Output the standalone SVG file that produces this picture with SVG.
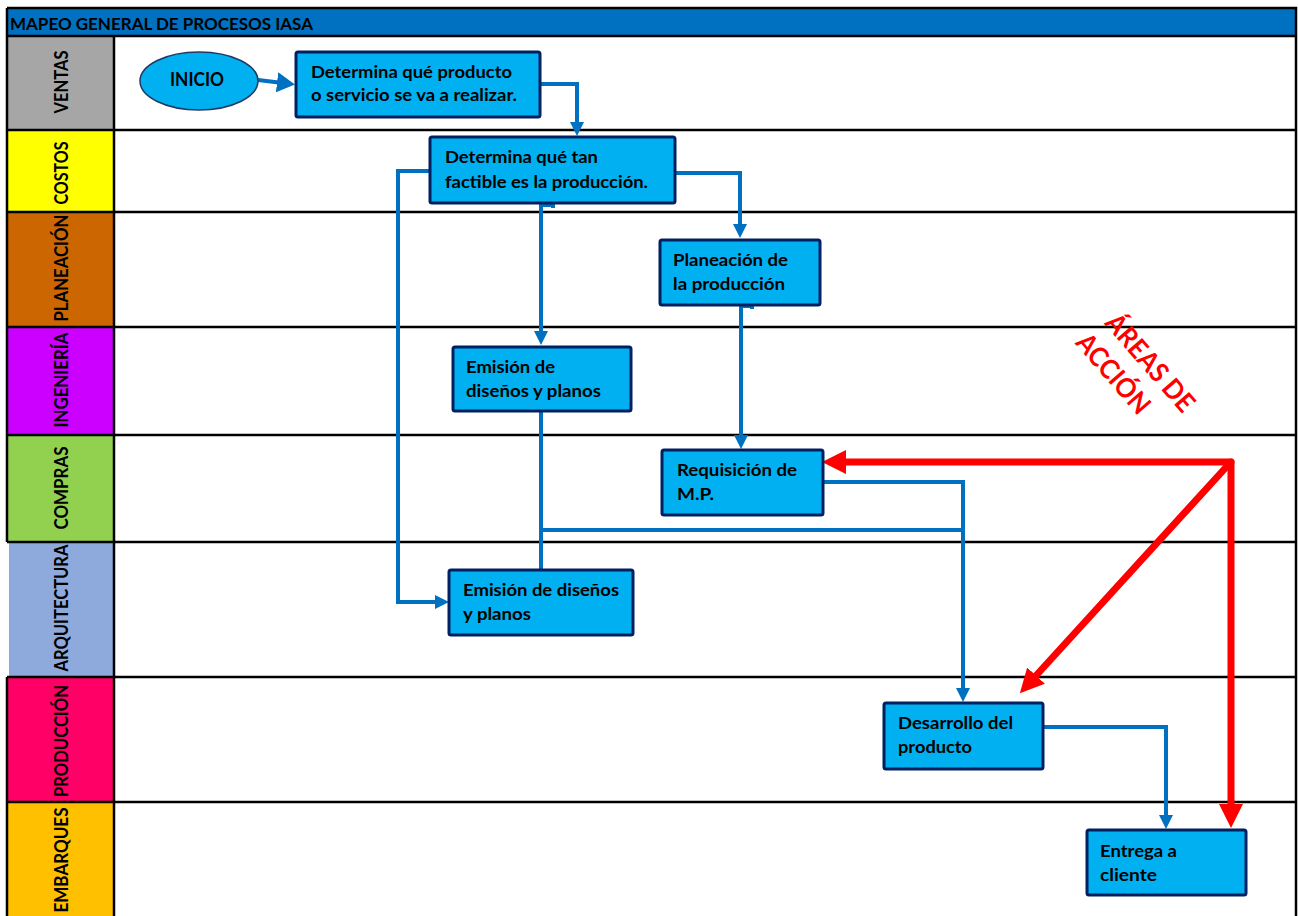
<svg xmlns="http://www.w3.org/2000/svg" width="1298" height="916" viewBox="0 0 1298 916">
<defs>
<style>
.lbl{font-family:Lato,"Liberation Sans",sans-serif;font-weight:bold;font-size:18.5px;fill:#000;text-anchor:middle}
.hdr{font-family:Lato,"Liberation Sans",sans-serif;font-weight:bold;font-size:17px;fill:#000}
.box{fill:#00B0F0;stroke:#002060;stroke-width:3}
.nt{font-family:Lato,"Liberation Sans",sans-serif;font-weight:bold;font-size:17.5px;fill:#000}
.grid{stroke:#000;stroke-width:2.5;fill:none}
.conn{fill:none;stroke:#0070C0;stroke-width:4}
.red{fill:none;stroke:#FF0000;stroke-width:7;stroke-linecap:round}
.rt{font-family:Lato,"Liberation Sans",sans-serif;font-weight:bold;font-size:27px;fill:#FF0000;text-anchor:middle}
</style>
<marker id="ab" markerUnits="userSpaceOnUse" markerWidth="14" markerHeight="14" refX="4" refY="7" orient="auto"><path d="M0,0 L14,7 L0,14 z" fill="#0070C0"/></marker>
<marker id="abig" markerUnits="userSpaceOnUse" markerWidth="18" markerHeight="20" refX="6" refY="10" orient="auto"><path d="M0,0 L18,10 L0,20 z" fill="#0070C0"/></marker>
<marker id="ar" markerUnits="userSpaceOnUse" markerWidth="24" markerHeight="24" refX="6" refY="12" orient="auto"><path d="M0,0 L24,12 L0,24 z" fill="#FF0000"/></marker>
</defs>
<rect x="0" y="0" width="1298" height="916" fill="#fff"/>
<g id="header">
<rect x="7" y="8" width="1289" height="28" fill="#0070C0"/>
<text class="hdr" x="10" y="29.5" textLength="303" lengthAdjust="spacingAndGlyphs">MAPEO GENERAL DE PROCESOS IASA</text>
</g>
<g id="lanes">
<g id="lane-ventas"><rect x="8" y="36" width="106" height="94" fill="#A6A6A6"/><text class="lbl" transform="translate(68,82) rotate(-90)" textLength="63" lengthAdjust="spacingAndGlyphs">VENTAS</text></g>
<g id="lane-costos"><rect x="8" y="130" width="106" height="82" fill="#FFFF00"/><text class="lbl" transform="translate(68,173) rotate(-90)" textLength="63" lengthAdjust="spacingAndGlyphs">COSTOS</text></g>
<g id="lane-planeacion"><rect x="8" y="212" width="106" height="115" fill="#CC6600"/><text class="lbl" transform="translate(68,268) rotate(-90)" textLength="107" lengthAdjust="spacingAndGlyphs">PLANEACIÓN</text></g>
<g id="lane-ingenieria"><rect x="8" y="327" width="106" height="108" fill="#CC00FF"/><text class="lbl" transform="translate(68,380) rotate(-90)" textLength="95" lengthAdjust="spacingAndGlyphs">INGENIERÍA</text></g>
<g id="lane-compras"><rect x="8" y="435" width="106" height="107" fill="#92D050"/><text class="lbl" transform="translate(68,488) rotate(-90)" textLength="83" lengthAdjust="spacingAndGlyphs">COMPRAS</text></g>
<g id="lane-arquitectura"><rect x="9" y="542" width="105" height="135" fill="#8EA9DB"/><text class="lbl" transform="translate(68,608) rotate(-90)" textLength="127" lengthAdjust="spacingAndGlyphs">ARQUITECTURA</text></g>
<g id="lane-produccion"><rect x="8" y="677" width="106" height="125" fill="#FF0066"/><text class="lbl" transform="translate(68,741) rotate(-90)" textLength="112" lengthAdjust="spacingAndGlyphs">PRODUCCIÓN</text></g>
<g id="lane-embarques"><rect x="8" y="802" width="106" height="114" fill="#FFC000"/><text class="lbl" transform="translate(68,860) rotate(-90)" textLength="105" lengthAdjust="spacingAndGlyphs">EMBARQUES</text></g>
<path class="grid" d="M7,8 H1296 V916 M7,36 H1296 M7,130 H1296 M7,212 H1296 M7,327 H1296 M7,435 H1296 M7,542 H1296 M7,677 H1296 M7,802 H1296 M114,36 V916 M7,8 V542 M7,677 V916"/>
</g>
<g id="connectors">
<path class="conn" d="M258,80 L283,83" stroke-width="5" marker-end="url(#abig)"/>
<path class="conn" d="M540,84 H577 V126" marker-end="url(#ab)"/>
<path class="conn" d="M675,173 H740 V228" marker-end="url(#ab)"/>
<path class="conn" d="M541,204 V335" marker-end="url(#ab)"/>
<path class="conn" d="M541,205 H553 V208"/>
<path class="conn" d="M430,171 H398 V602 H439" marker-end="url(#ab)"/>
<path class="conn" d="M741,305 V439" marker-end="url(#ab)"/>
<path class="conn" d="M741,306 H752 V309"/>
<path class="conn" d="M541,411 V570"/>
<path class="conn" d="M541,530 H963"/>
<path class="conn" d="M823,482 H963 V692" marker-end="url(#ab)"/>
<path class="conn" d="M1043,727 H1166 V819" marker-end="url(#ab)"/>
<path class="red" d="M1231,462 H840" marker-end="url(#ar)"/>
<path class="red" d="M1229,464 L1032,680" marker-end="url(#ar)"/>
<path class="red" d="M1231,462 V810" marker-end="url(#ar)"/>
</g>
<g id="node-inicio">
<ellipse cx="199" cy="81" rx="59" ry="29" fill="#00B0F0" stroke="#1F3864" stroke-width="1.5"/>
<text class="nt" x="170" y="86" textLength="54" lengthAdjust="spacingAndGlyphs" style="font-size:18.5px">INICIO</text>
</g>
<g id="node-determina-producto">
<rect class="box" x="296" y="52" width="244" height="65" rx="2"/>
<text class="nt" x="311" y="78" textLength="201" lengthAdjust="spacingAndGlyphs">Determina qué producto</text>
<text class="nt" x="311" y="101" textLength="206" lengthAdjust="spacingAndGlyphs">o servicio se va a realizar.</text>
</g>
<g id="node-factible">
<rect class="box" x="430" y="137" width="245" height="66" rx="2"/>
<text class="nt" x="445" y="163" textLength="153" lengthAdjust="spacingAndGlyphs">Determina qué tan</text>
<text class="nt" x="445" y="188" textLength="203" lengthAdjust="spacingAndGlyphs">factible es la producción.</text>
</g>
<g id="node-planeacion">
<rect class="box" x="660" y="240" width="160" height="65" rx="2"/>
<text class="nt" x="673" y="266" textLength="115" lengthAdjust="spacingAndGlyphs">Planeación de</text>
<text class="nt" x="673" y="290" textLength="112" lengthAdjust="spacingAndGlyphs">la producción</text>
</g>
<g id="node-emision-ing">
<rect class="box" x="453" y="347" width="178" height="64" rx="2"/>
<text class="nt" x="466" y="373" textLength="89" lengthAdjust="spacingAndGlyphs">Emisión de</text>
<text class="nt" x="466" y="397" textLength="135" lengthAdjust="spacingAndGlyphs">diseños y planos</text>
</g>
<g id="node-requisicion">
<rect class="box" x="662" y="450" width="161" height="65" rx="2"/>
<text class="nt" x="677" y="476" textLength="120" lengthAdjust="spacingAndGlyphs">Requisición de</text>
<text class="nt" x="677" y="500" textLength="37" lengthAdjust="spacingAndGlyphs">M.P.</text>
</g>
<g id="node-emision-arq">
<rect class="box" x="449" y="570" width="184" height="65" rx="2"/>
<text class="nt" x="463" y="596" textLength="156" lengthAdjust="spacingAndGlyphs">Emisión de diseños</text>
<text class="nt" x="463" y="620" textLength="68" lengthAdjust="spacingAndGlyphs">y planos</text>
</g>
<g id="node-desarrollo">
<rect class="box" x="884" y="703" width="159" height="66" rx="2"/>
<text class="nt" x="898" y="729" textLength="115" lengthAdjust="spacingAndGlyphs">Desarrollo del</text>
<text class="nt" x="898" y="753" textLength="74" lengthAdjust="spacingAndGlyphs">producto</text>
</g>
<g id="node-entrega">
<rect class="box" x="1087" y="830" width="159" height="65" rx="2"/>
<text class="nt" x="1100" y="857" textLength="77" lengthAdjust="spacingAndGlyphs">Entrega a</text>
<text class="nt" x="1100" y="881" textLength="57" lengthAdjust="spacingAndGlyphs">cliente</text>
</g>
<g id="label-areas" transform="translate(1150,363) rotate(49)">
<text class="rt" x="0" y="9" textLength="120" lengthAdjust="spacingAndGlyphs">ÁREAS DE</text>
<text class="rt" x="-16" y="44" textLength="97" lengthAdjust="spacingAndGlyphs">ACCIÓN</text>
</g>
</svg>
